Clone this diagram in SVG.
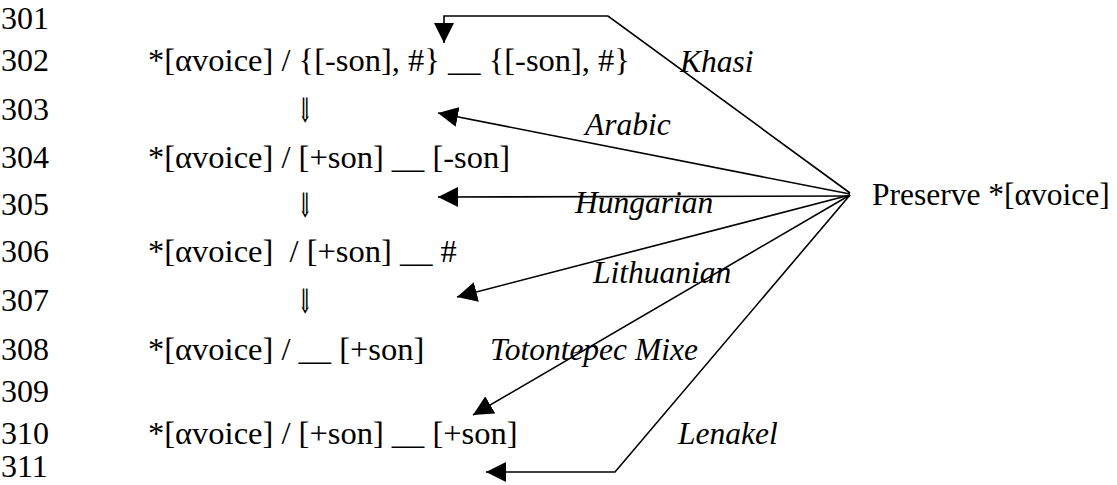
<svg xmlns="http://www.w3.org/2000/svg" width="1117" height="485" viewBox="0 0 1117 485">
<defs>
<marker id="ah" markerUnits="userSpaceOnUse" markerWidth="20" markerHeight="20" viewBox="0 0 20 20" refX="20" refY="10" orient="auto">
<path d="M0,0 L20,10 L0,20 z" fill="#000"/>
</marker>
<style>
text{fill:#000}
.num{font-size:32px}
.expr{font-size:32.5px;white-space:pre}
.arr{font-size:34px}
.lbl{font-size:31.5px;font-style:italic}
.goal{font-size:31.5px}
.con{fill:none;stroke:#000;stroke-width:1.6;marker-end:url(#ah)}
</style>
</defs>
<g id="line-numbers" font-family="'Liberation Serif', 'DejaVu Serif', serif">
<text class="num" x="1" y="29">301</text>
<text class="num" x="1" y="71">302</text>
<text class="num" x="1" y="120">303</text>
<text class="num" x="1" y="168">304</text>
<text class="num" x="1" y="215">305</text>
<text class="num" x="1" y="262">306</text>
<text class="num" x="1" y="311">307</text>
<text class="num" x="1" y="360">308</text>
<text class="num" x="1" y="402">309</text>
<text class="num" x="1" y="444">310</text>
<text class="num" x="1" y="477">311</text>
</g>
<g id="rule-302" font-family="'Liberation Serif', 'DejaVu Serif', serif"><text class="expr" x="148" y="71">*[αvoice] / {[-son], #} __ {[-son], #}</text></g>
<g id="step-303" font-family="'DejaVu Serif', serif"><text class="arr" x="305" y="122" text-anchor="middle" transform="translate(305 0) scale(0.55 1) translate(-305 0)">⇓</text></g>
<g id="rule-304" font-family="'Liberation Serif', 'DejaVu Serif', serif"><text class="expr" x="148" y="168">*[αvoice] / [+son] __ [-son]</text></g>
<g id="step-305" font-family="'DejaVu Serif', serif"><text class="arr" x="305" y="217" text-anchor="middle" transform="translate(305 0) scale(0.55 1) translate(-305 0)">⇓</text></g>
<g id="rule-306" font-family="'Liberation Serif', 'DejaVu Serif', serif"><text class="expr" x="148" y="262" xml:space="preserve">*[αvoice]  / [+son] __ #</text></g>
<g id="step-307" font-family="'DejaVu Serif', serif"><text class="arr" x="305" y="313" text-anchor="middle" transform="translate(305 0) scale(0.55 1) translate(-305 0)">⇓</text></g>
<g id="rule-308" font-family="'Liberation Serif', 'DejaVu Serif', serif"><text class="expr" x="148" y="360">*[αvoice] / __ [+son]</text></g>
<g id="rule-310" font-family="'Liberation Serif', 'DejaVu Serif', serif"><text class="expr" x="148" y="444">*[αvoice] / [+son] __ [+son]</text></g>
<g id="preserve" font-family="'Liberation Serif', 'DejaVu Serif', serif"><text class="goal" x="872" y="205">Preserve *[αvoice]</text></g>
<g id="connectors">
<path class="con" d="M850,193 L608,16 L444,16 L444,43"/>
<path class="con" d="M850,194 L438,113"/>
<path class="con" d="M850,196 L438,197"/>
<path class="con" d="M850,195 L457,297"/>
<path class="con" d="M850,195 L473,415"/>
<path class="con" d="M850,195 L615,472 L486,472"/>
</g>
<g id="labels" font-family="'Liberation Serif', 'DejaVu Serif', serif">
<text class="lbl" x="680" y="72">Khasi</text>
<text class="lbl" x="585" y="135">Arabic</text>
<text class="lbl" x="575" y="213">Hungarian</text>
<text class="lbl" x="593" y="283">Lithuanian</text>
<text class="lbl" x="490" y="360">Totontepec Mixe</text>
<text class="lbl" x="678" y="444">Lenakel</text>
</g>
</svg>
